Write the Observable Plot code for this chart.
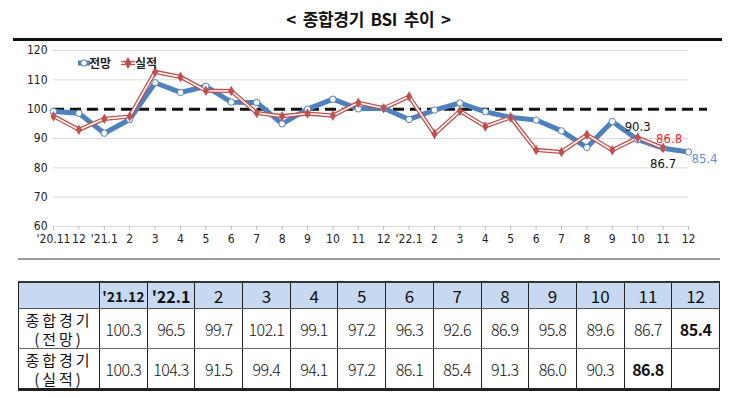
<!DOCTYPE html>
<html>
<head>
<meta charset="utf-8">
<script src="https://cdn.jsdelivr.net/npm/d3@7"></script>
<script src="https://cdn.jsdelivr.net/npm/@observablehq/plot@0.6"></script>
<style>
  html, body { margin: 0; padding: 0; background: #fff; }
  #wrap { position: relative; width: 737px; height: 397px; overflow: hidden; font-family: "Noto Sans CJK KR", sans-serif; }
  #title { position: absolute; left: 0; top: 6px; width: 737px; text-align: center; font-size: 17px; font-weight: 700; color: #111; letter-spacing: -0.3px; word-spacing: 3px; }
  #topline { position: absolute; left: 13px; top: 38px; width: 709px; height: 3px; background: #111; }
  #botline { position: absolute; left: 18px; top: 258px; width: 702px; height: 2px; background: #9a9a9a; }
  #chart { position: absolute; left: 0; top: 40px; }
  #legend { position: absolute; left: 70px; top: 53px; }
  table { position: absolute; left: 18px; top: 281px; border-collapse: collapse; table-layout: fixed; width: 702px; }
  td { border-left: 1px solid #222; border-right: 1px solid #222; text-align: center; padding: 0; color: #111; font-size: 16px; }
  tr.h td { background: #c6d9f0; height: 21px; font-size: 17px; border-top: 2px solid #333; border-bottom: 1px solid #555; }
  tr.r td { height: 39px; border-bottom: 1px solid #666; font-family: "Noto Sans CJK KR", sans-serif; font-weight: 300; letter-spacing: -0.5px; }
  tr.r:last-child td { border-bottom: 3px solid #222; }
  td.lab { font-weight: 400 !important; }
  td.lab div { font-size: 15px; line-height: 19px; height: 19px; overflow: visible; letter-spacing: 3px; white-space: nowrap; }
  td.b { font-weight: 700 !important; }
  tr.h td.sm { font-size: 14px; font-weight: 700; }
</style>
</head>
<body>
<div id="wrap">
  <div id="title">&lt; 종합경기 BSI 추이 &gt;</div>
  <div id="topline"></div>
  <div id="chart"></div>
  <div id="legend"></div>
  <div id="botline"></div>
  <div id="tbl"></div>
</div>
<script>
// ---- data ----
const xLabels = ["'20.11","12","'21.1","2","3","4","5","6","7","8","9","10","11","12","'22.1","2","3","4","5","6","7","8","9","10","11","12"];
const forecast = [99.2, 98.6, 91.8, 96.5, 109.0, 105.7, 107.8, 102.4, 102.3, 95.0, 100.0, 103.4, 100.1, 100.3, 96.5, 99.7, 102.1, 99.1, 97.2, 96.3, 92.6, 86.9, 95.8, 89.6, 86.7, 85.4];
const actual   = [97.6, 93.0, 96.7, 97.5, 112.7, 111.0, 106.3, 106.2, 98.7, 97.6, 98.5, 97.8, 102.2, 100.3, 104.3, 91.5, 99.4, 94.1, 97.2, 86.1, 85.4, 91.3, 86.0, 90.3, 86.8, null];
const yTicks = [60, 70, 80, 90, 100, 110, 120];
const refLine = 100;
const seriesNames = ["전망", "실적"];
const rowNames = [["종합경기", "(전망)"], ["종합경기", "(실적)"]];
const tableFirst = 13; // '21.12 onward

const BLUE = "#4f81bd", RED = "#c0504d";

const fData = forecast.map((v, i) => ({i, v}));
const aData = actual.map((v, i) => ({i, v})).filter(d => d.v != null);

const annotations = [
  {i: 23, v: actual[23], fill: "#111", dy: -11, dx: 0, anchor: "middle"},
  {i: 24, v: actual[24], fill: "#ff1a1a", dy: -9, dx: 6, anchor: "middle"},
  {i: 24, v: forecast[24], fill: "#111", dy: 16, dx: 0, anchor: "middle"},
  {i: 25, v: forecast[25], fill: "#5b8fd4", dy: 7, dx: 3, anchor: "start"}
];

const FONT = '"Liberation Sans Narrow", "DejaVu Sans Condensed", sans-serif';

const chart = Plot.plot({
  width: 737,
  height: 220,
  marginLeft: 53,
  marginRight: 49,
  marginTop: 10,
  marginBottom: 34,
  style: {fontFamily: FONT, fontSize: "12px", color: "#222", overflow: "visible"},
  x: {type: "linear", domain: [0, xLabels.length - 1]},
  y: {domain: [60, 120]},
  marks: [
    Plot.ruleY(yTicks, {stroke: "#d9d9d9", strokeWidth: 1}),
    Plot.axisY({ticks: yTicks, tickSize: 0, tickPadding: 6, label: null, fontSize: 12}),
    Plot.axisX({ticks: d3.range(xLabels.length), tickFormat: i => xLabels[i], tickSize: 4, tickPadding: 4, stroke: "#bbb", label: null, fontSize: 12}),
    Plot.ruleY([refLine], {x1: 0, x2: 25.75, stroke: "#111", strokeWidth: 3, strokeDasharray: "11,6"}),
    Plot.lineY(fData, {x: "i", y: "v", stroke: BLUE, strokeWidth: 5}),
    Plot.lineY(aData, {x: "i", y: "v", stroke: RED, strokeWidth: 4.2}),
    Plot.lineY(aData, {x: "i", y: "v", stroke: "#fff", strokeWidth: 1.6}),
    Plot.dot(fData, {x: "i", y: "v", r: 3.2, fill: "#fff", stroke: BLUE, strokeWidth: 1}),
    Plot.dot(aData, {x: "i", y: "v", r: 3.2, symbol: "diamond", fill: RED}),
    ...annotations.map(a => Plot.text([a], {x: "i", y: "v", text: d => d.v.toFixed(1), fill: a.fill, dy: a.dy, dx: a.dx, textAnchor: a.anchor, fontSize: 13}))
  ]
});
document.getElementById("chart").appendChild(chart);

// legend
const lg = d3.select("#legend").append("svg").attr("width", 110).attr("height", 18);
const items = [{name: seriesNames[0], x: 0, color: BLUE}, {name: seriesNames[1], x: 51, color: RED}];
items.forEach((it, k) => {
  const g = lg.append("g").attr("transform", `translate(${it.x},9)`);
  if (k === 0) {
    g.append("line").attr("x1", 8).attr("x2", 20).attr("stroke", it.color).attr("stroke-width", 5);
    g.append("circle").attr("cx", 14).attr("r", 3.2).attr("fill", "#fff").attr("stroke", it.color);
  } else {
    g.append("line").attr("x1", 0).attr("x2", 14).attr("stroke", it.color).attr("stroke-width", 4.2);
    g.append("line").attr("x1", 0).attr("x2", 14).attr("stroke", "#fff").attr("stroke-width", 1.6);
    g.append("path").attr("d", d3.symbol(d3.symbolDiamond, 40)()).attr("transform", "translate(7,0)").attr("fill", it.color);
  }
  g.append("text").attr("x", k === 0 ? 19 : 14).attr("y", 4.5).attr("font-size", 12).attr("font-weight", 700)
    .attr("font-family", '"Noto Sans CJK KR", sans-serif').attr("fill", "#222").text(it.name);
});

// table
const hdr = xLabels.slice(tableFirst).map((s, k) => k === 0 ? "'21.12" : s);
const fRow = forecast.slice(tableFirst);
const aRow = actual.slice(tableFirst);
let html = '<table><colgroup><col style="width:81px">' + hdr.map(() => '<col>').join("") + '</colgroup>';
html += '<tr class="h"><td></td>' + hdr.map((h, k) => `<td class="${k < 2 ? 'sm' : ''}"${k === 1 ? ' style="font-size:16px;font-weight:700"' : ''}>${h}</td>`).join("") + '</tr>';
const lastF = fRow.length - 1;
const lastA = aRow.reduce((m, v, k) => v != null ? k : m, 0);
const lab = r => `<td class="lab">${r.map(s => `<div>${s}</div>`).join("")}</td>`;
html += `<tr class="r">${lab(rowNames[0])}` + fRow.map((v, k) => `<td class="${k === lastF ? 'b' : ''}">${v.toFixed(1)}</td>`).join("") + '</tr>';
html += `<tr class="r">${lab(rowNames[1])}` + aRow.map((v, k) => `<td class="${k === lastA ? 'b' : ''}">${v == null ? '' : v.toFixed(1)}</td>`).join("") + '</tr>';
html += '</table>';
document.getElementById("tbl").innerHTML = html;
</script>
</body>
</html>
